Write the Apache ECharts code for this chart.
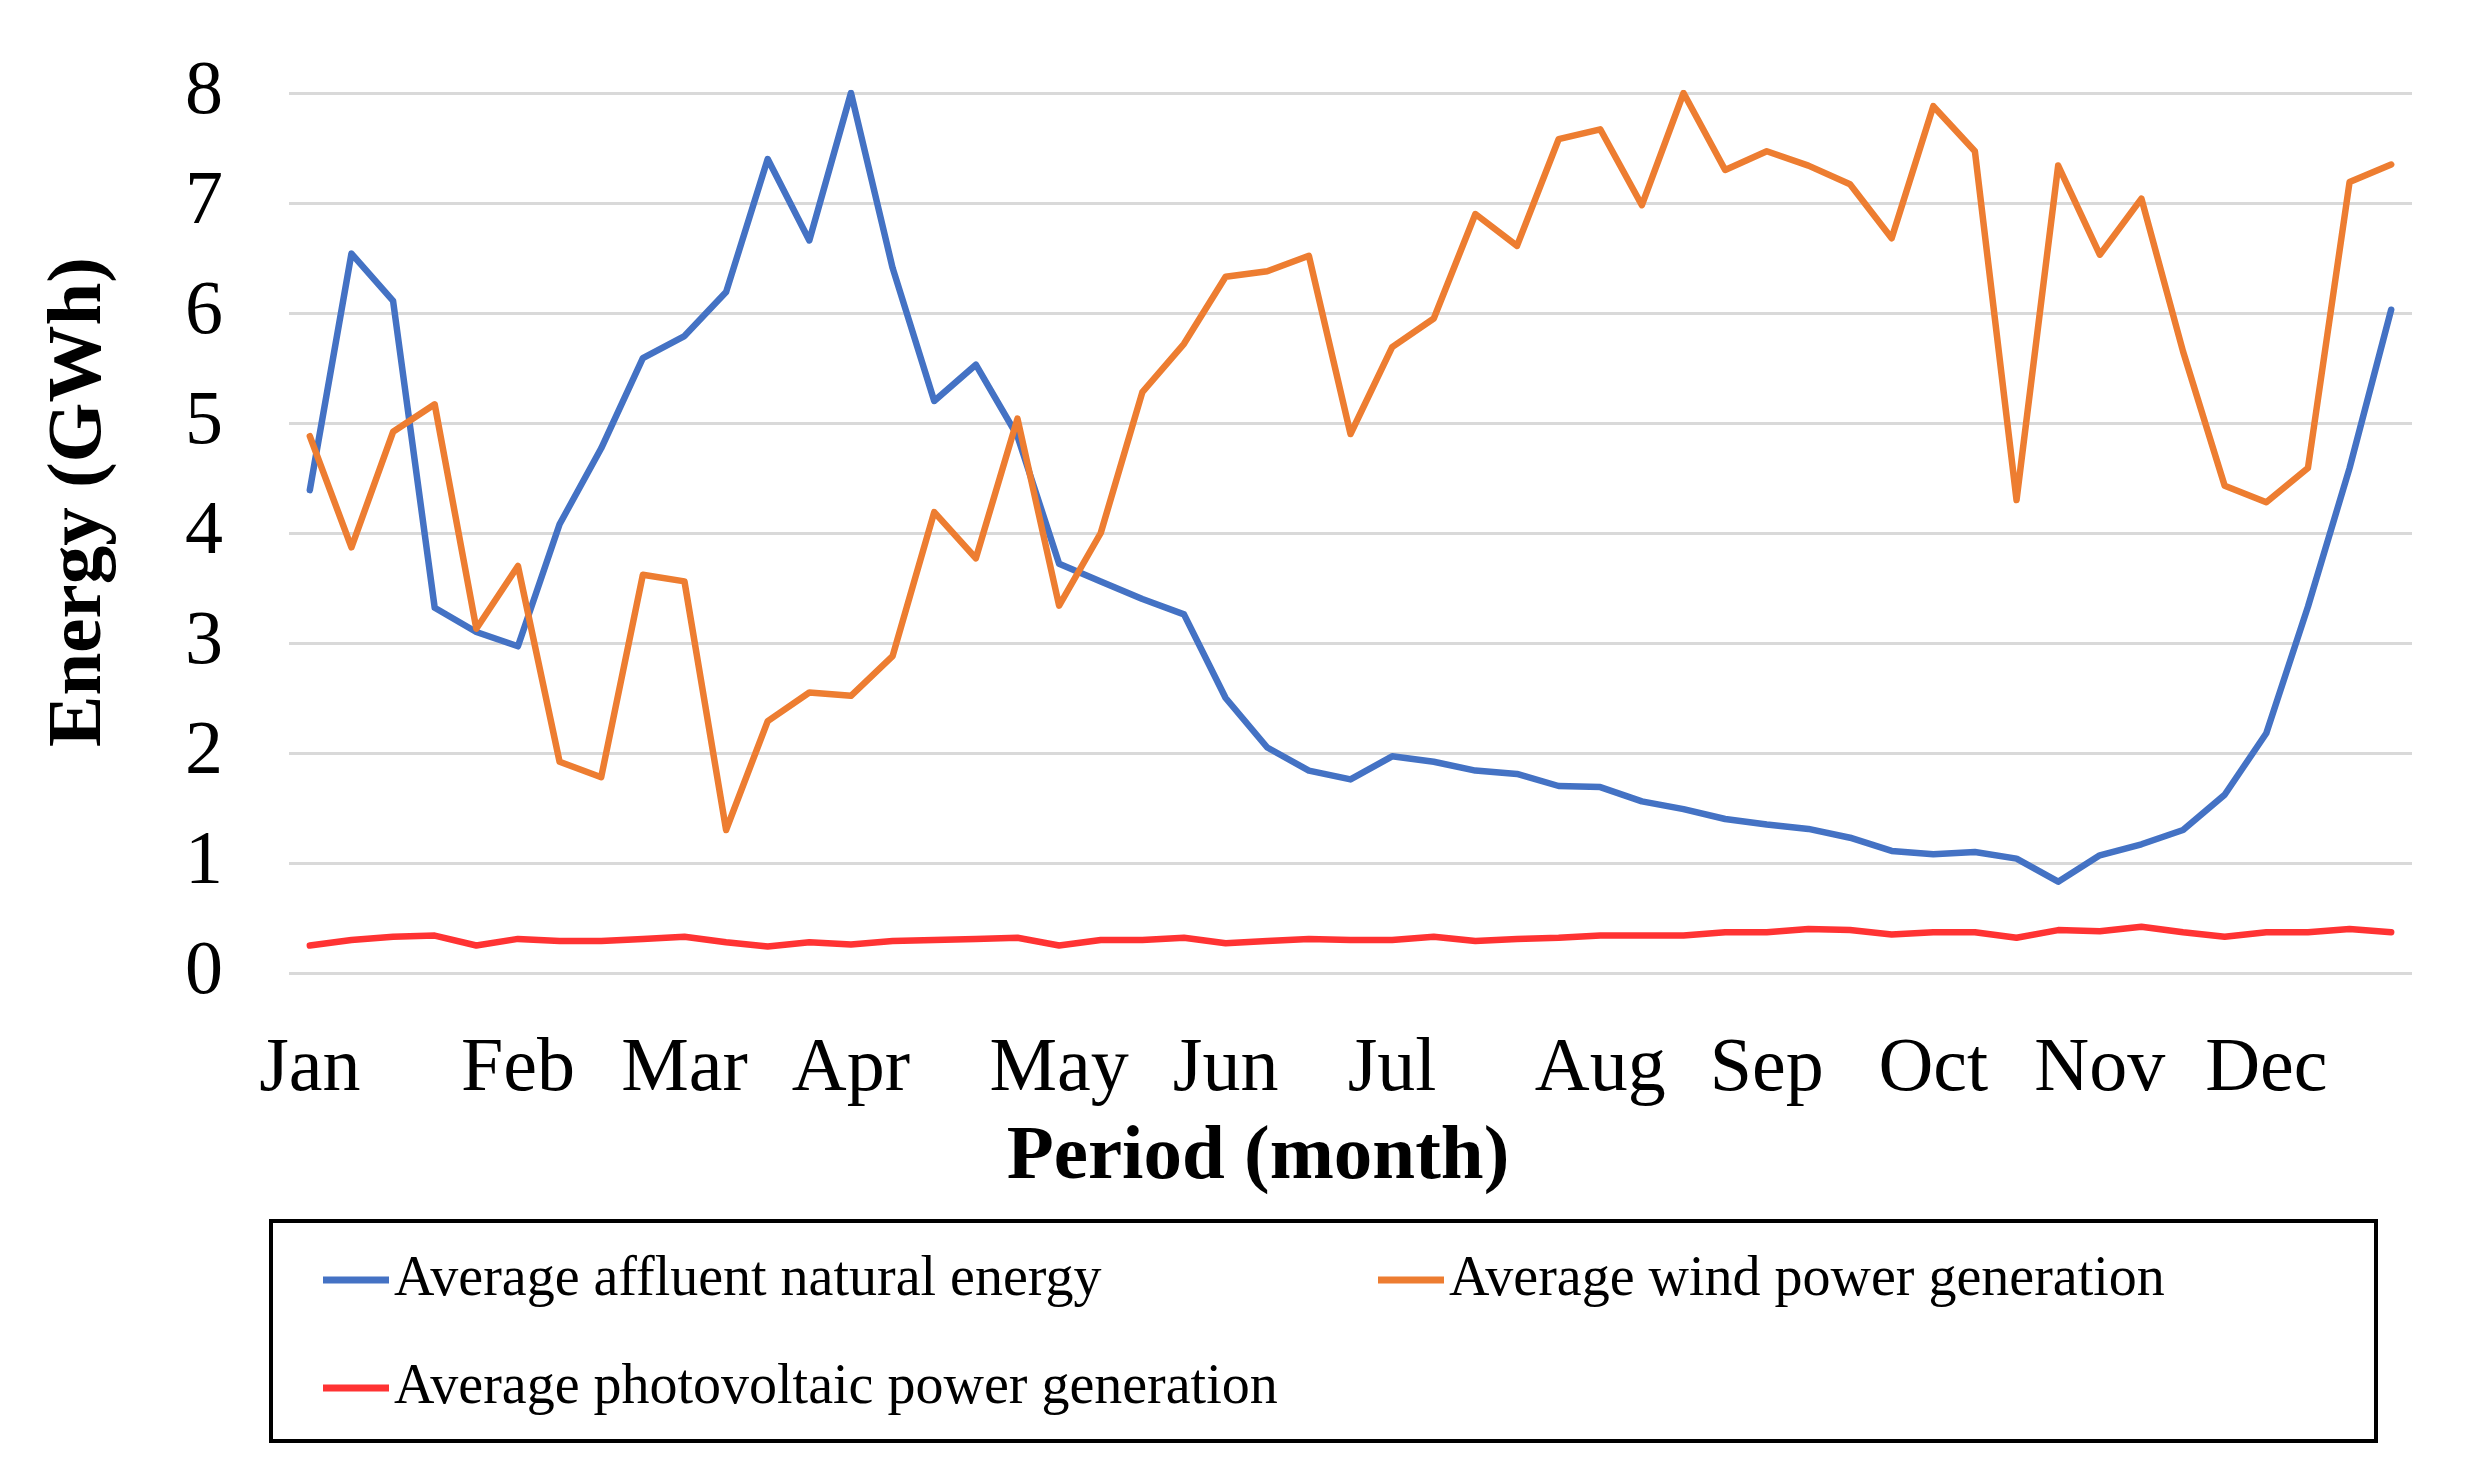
<!DOCTYPE html>
<html>
<head>
<meta charset="utf-8">
<script src="https://cdn.jsdelivr.net/npm/echarts@6/dist/echarts.min.js"></script>
<style>
html,body{margin:0;padding:0;background:#fff;}
#chart{width:2489px;height:1481px;}
</style>
</head>
<body>
<div id="chart"></div>
<script>
// Weekly categories (51 points); month names at the first week of each month
const categories = ['Jan','','','','','Feb','','','','Mar','','','','Apr','','','','','May','','','','Jun','','','','Jul','','','','','Aug','','','','Sep','','','','Oct','','','','Nov','','','','Dec','','',''];

const affluentNatural = [4.39,6.54,6.11,3.32,3.10,2.97,4.08,4.77,5.59,5.79,6.19,7.40,6.66,8.00,6.41,5.20,5.53,4.88,3.72,3.56,3.40,3.26,2.50,2.05,1.84,1.76,1.97,1.92,1.84,1.81,1.70,1.69,1.56,1.49,1.40,1.35,1.31,1.23,1.11,1.08,1.10,1.04,0.83,1.07,1.17,1.30,1.62,2.18,3.33,4.59,6.03];

const windPower = [4.88,3.87,4.92,5.17,3.13,3.70,1.92,1.78,3.62,3.56,1.30,2.29,2.55,2.52,2.88,4.19,3.77,5.04,3.34,4.00,5.28,5.72,6.33,6.38,6.52,4.90,5.69,5.95,6.90,6.61,7.58,7.67,6.98,8.00,7.30,7.47,7.34,7.17,6.68,7.88,7.47,4.30,7.34,6.53,7.04,5.65,4.43,4.28,4.59,7.19,7.35];

const pvPower = [0.25,0.30,0.33,0.34,0.25,0.31,0.29,0.29,0.31,0.33,0.28,0.24,0.28,0.26,0.29,0.30,0.31,0.32,0.25,0.30,0.30,0.32,0.27,0.29,0.31,0.30,0.30,0.33,0.29,0.31,0.32,0.34,0.34,0.34,0.37,0.37,0.40,0.39,0.35,0.37,0.37,0.32,0.39,0.38,0.42,0.37,0.33,0.37,0.37,0.40,0.37];

const yTicks = {min: 0, max: 8, interval: 1};
const seriesNames = ['Average affluent natural energy','Average wind power generation','Average photovoltaic power generation'];
const colors = ['#4472C4','#ED7D31','#FF3333'];

const FONT = '"Liberation Serif","Times New Roman",serif';
const chart = echarts.init(document.getElementById('chart'), null, {renderer: 'canvas'});

function legendAt(name, left, top) {
  return {
    data: [name], left: left, top: top, orient: 'horizontal', padding: 0,
    icon: 'rect', itemWidth: 66, itemHeight: 7, selectedMode: false,
    textStyle: {fontFamily: FONT, fontSize: 56, color: '#000'}
  };
}

chart.setOption({
  animation: false,
  backgroundColor: '#fff',
  color: colors,
  grid: {left: 289, right: 77, top: 93, bottom: 508, containLabel: false},
  legend: [
    legendAt(seriesNames[0], 323, 1252),
    legendAt(seriesNames[1], 1378, 1252),
    legendAt(seriesNames[2], 323, 1360)
  ],
  xAxis: {
    type: 'category', data: categories, boundaryGap: true,
    axisLine: {show: false}, axisTick: {show: false},
    axisLabel: {interval: 0, margin: 59, fontFamily: FONT, fontSize: 76, color: '#000'}
  },
  yAxis: {
    type: 'value', min: yTicks.min, max: yTicks.max, interval: yTicks.interval,
    axisLine: {show: false}, axisTick: {show: false},
    splitLine: {lineStyle: {color: '#D9D9D9', width: 3}},
    axisLabel: {margin: 66, fontFamily: FONT, fontSize: 76, color: '#000', lineHeight: 76, padding: [10,0,0,0]}
  },
  graphic: [
    {type: 'text', x: 1258, y: 1158, style: {text: 'Period (month)', font: 'bold 77px ' + FONT, fill: '#000', align: 'center', verticalAlign: 'middle'}},
    {type: 'text', x: 80, y: 502, rotation: Math.PI / 2, style: {text: 'Energy (GWh)', font: 'bold 77px ' + FONT, fill: '#000', align: 'center', verticalAlign: 'middle'}},
    {type: 'rect', shape: {x: 271, y: 1221, width: 2105, height: 220}, style: {fill: 'none', stroke: '#000', lineWidth: 4}, z: 0}
  ],
  series: [
    {name: seriesNames[0], type: 'line', data: affluentNatural, symbol: 'none', lineStyle: {width: 6.5, color: colors[0], join: 'round', cap: 'round'}, z: 3},
    {name: seriesNames[1], type: 'line', data: windPower, symbol: 'none', lineStyle: {width: 6.5, color: colors[1], join: 'round', cap: 'round'}, z: 4},
    {name: seriesNames[2], type: 'line', data: pvPower, symbol: 'none', lineStyle: {width: 6.5, color: colors[2], join: 'round', cap: 'round'}, z: 2}
  ]
});
</script>
</body>
</html>
